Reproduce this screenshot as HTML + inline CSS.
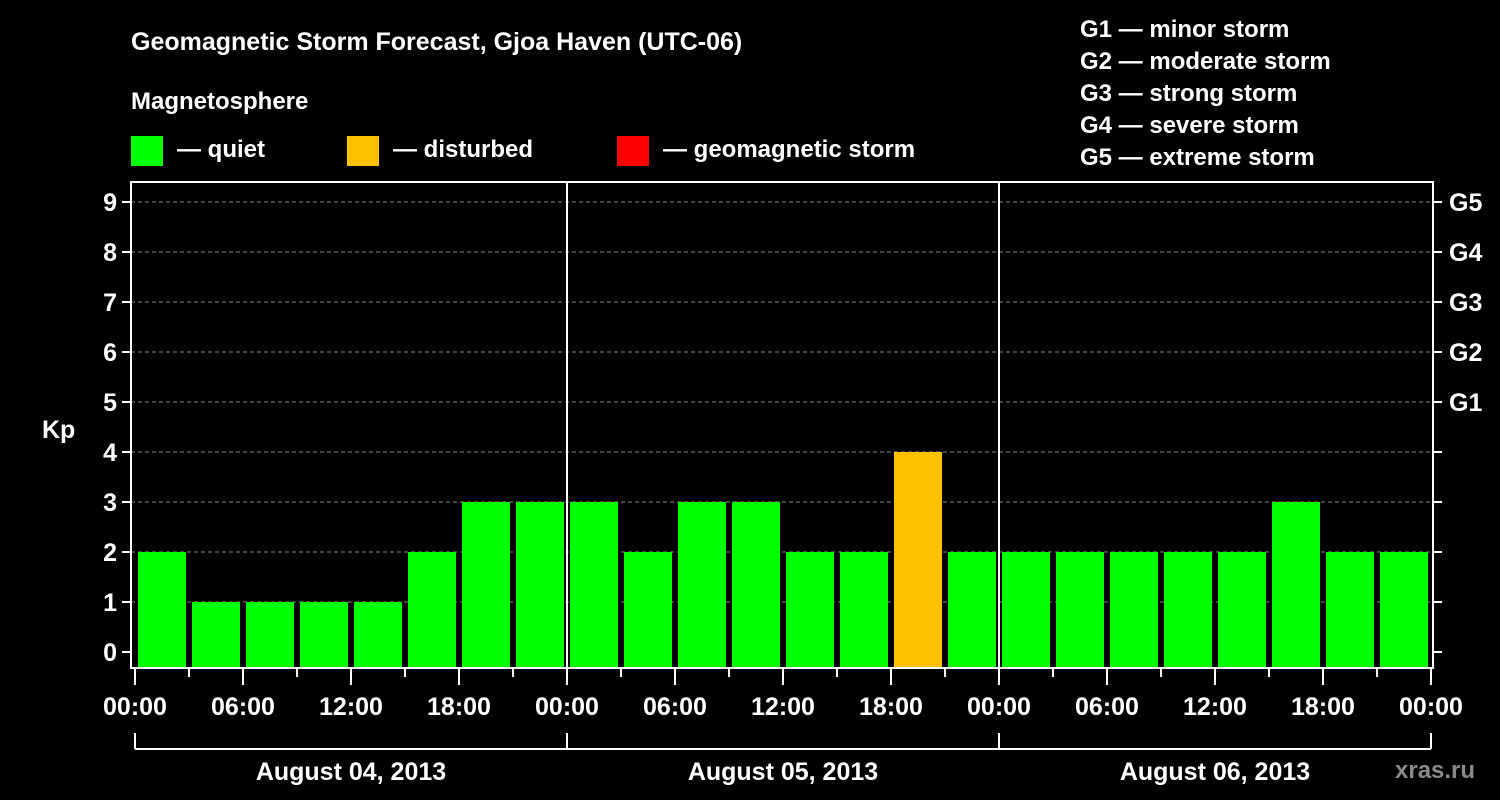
<!DOCTYPE html>
<html><head><meta charset="utf-8"><style>
html,body{margin:0;padding:0;background:#000;width:1500px;height:800px;overflow:hidden}
svg text{font-family:"Liberation Sans",sans-serif;font-weight:bold;fill:#fff}
</style></head><body>
<svg width="1500" height="800" xmlns="http://www.w3.org/2000/svg">
<text x="131" y="50" font-size="25">Geomagnetic Storm Forecast, Gjoa Haven (UTC-06)</text>
<text x="131" y="109" font-size="24">Magnetosphere</text>
<g>
<rect x="131" y="136" width="32" height="30" fill="#00ff00"/>
<text x="177" y="157" font-size="24">— quiet</text>
<rect x="347" y="136" width="32" height="30" fill="#ffc000"/>
<text x="393" y="157" font-size="24">— disturbed</text>
<rect x="617" y="136" width="32" height="30" fill="#ff0000"/>
<text x="663" y="157" font-size="24">— geomagnetic storm</text>
</g>
<g font-size="24">
<text x="1080" y="37">G1 — minor storm</text>
<text x="1080" y="69">G2 — moderate storm</text>
<text x="1080" y="101">G3 — strong storm</text>
<text x="1080" y="133">G4 — severe storm</text>
<text x="1080" y="165">G5 — extreme storm</text>
</g>
<text x="42" y="438" font-size="25">Kp</text>
<g id="plot"></g>
<text x="1395" y="778" font-size="24" fill="#888" style="fill:#8a8a8a">xras.ru</text>
</svg>
<script>
const kpValues=[2,1,1,1,1,2,3,3, 3,2,3,3,2,2,4,2, 2,2,2,2,2,3,2,2];
const yTicks=[0,1,2,3,4,5,6,7,8,9];
const gLabels=["G1","G2","G3","G4","G5"];
const timeLabels=["00:00","06:00","12:00","18:00","00:00","06:00","12:00","18:00","00:00","06:00","12:00","18:00","00:00"];
const dateLabels=["August 04, 2013","August 05, 2013","August 06, 2013"];
const NS="http://www.w3.org/2000/svg";
const g=document.getElementById('plot');
const X0=135,STEP=54,Y0=652,UNIT=50,LEFT=131,RIGHT=1433,TOP=182,BOT=668;
const xs=i=>X0+i*STEP, ys=v=>Y0-v*UNIT;
function mk(t,a,p){const e=document.createElementNS(NS,t);for(const k in a)e.setAttribute(k,a[k]);(p||g).appendChild(e);return e;}
yTicks.forEach(v=>{
 if(v>0){const l=mk('line',{x1:LEFT,x2:RIGHT,y1:ys(v),y2:ys(v),stroke:'#888','stroke-dasharray':'4,3','stroke-width':1});
 
 }
 const t=mk('line',{x1:LEFT-9,x2:LEFT,y1:ys(v),y2:ys(v),stroke:'#fff','stroke-width':2});
 
 
 const t2=mk('line',{x1:RIGHT,x2:RIGHT+9,y1:ys(v),y2:ys(v),stroke:'#fff','stroke-width':2});
 
 
 const tx=mk('text',{x:LEFT-14,y:ys(v)+9,'font-size':25,'text-anchor':'end'});
 tx.textContent=v;
 
 
});
gLabels.forEach((s,i)=>{
 const tx=mk('text',{x:1449,y:ys(5+i)+9,'font-size':25});
 tx.textContent=s;
 
 
});
kpValues.forEach((v,i)=>{
 const c=v>=5?'#ff0000':(v>=4?'#ffc000':'#00ff00');
 const r=mk('rect',{x:xs(i)+3,y:ys(v),width:48,height:BOT-ys(v),fill:c});
 
 
});
[8,16].forEach(i=>{const l=mk('line',{x1:xs(i)-2+2,x2:xs(i),y1:TOP,y2:BOT,stroke:'#fff','stroke-width':2});
 
 });
const fr=mk('rect',{x:LEFT,y:TOP,width:RIGHT-LEFT,height:BOT-TOP,fill:'none',stroke:'#fff','stroke-width':2});


for(let i=0;i<=24;i++){
 const l=mk('line',{x1:xs(i),x2:xs(i),y1:BOT,y2:BOT+(i%2?9:17),stroke:'#fff','stroke-width':2});
 
 
}
timeLabels.forEach((s,i)=>{
 const tx=mk('text',{x:xs(i*2),y:715,'font-size':25,'text-anchor':'middle'});
 tx.textContent=s;
 
 
});
const bl=mk('line',{x1:xs(0),x2:xs(24),y1:749,y2:749,stroke:'#fff','stroke-width':2});


for(let d=0;d<=3;d++){
 const l=mk('line',{x1:xs(d*8),x2:xs(d*8),y1:733,y2:749,stroke:'#fff','stroke-width':2});
 
 
}
dateLabels.forEach((s,d)=>{
 const tx=mk('text',{x:(xs(d*8)+xs(d*8+8))/2,y:780,'font-size':25,'text-anchor':'middle'});
 tx.textContent=s;
 
 
});
</script>
</body></html>
